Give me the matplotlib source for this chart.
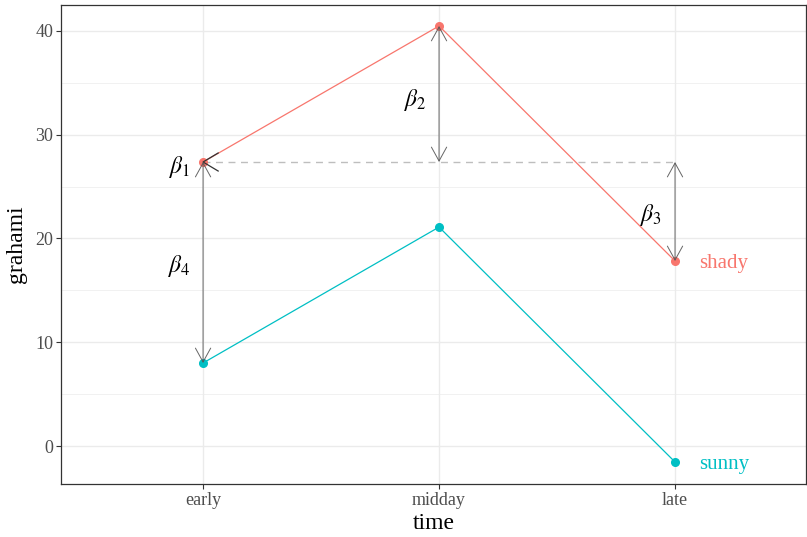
import matplotlib
matplotlib.use("Agg")
import matplotlib.pyplot as plt
import numpy as np

times = ["early", "midday", "late"]
shady = [27.37, 40.48, 17.83]
sunny = [8.0, 21.1, -1.54]
series_names = ["shady", "sunny"]
colors = ["#F8766D", "#00BFC4"]
yticks = [0, 10, 20, 30, 40]
beta_labels = [r"$\beta_1$", r"$\beta_2$", r"$\beta_3$", r"$\beta_4$"]

plt.rcParams["font.family"] = ["Liberation Serif", "DejaVu Serif"]
plt.rcParams["mathtext.fontset"] = "stix"

fig = plt.figure(figsize=(8.07, 5.37), dpi=100)
ax = fig.add_axes([61/807, 1-484/537, (806-61)/807, (484-5)/537])

x = np.arange(1, len(times)+1)
ax.set_xlim(0.398, 3.555)
ax.set_ylim(-3.66, 42.5)

# grid
for v in [5, 15, 25, 35]:
    ax.axhline(v, color="#EBEBEB", lw=0.5, zorder=0)
for v in yticks:
    ax.axhline(v, color="#EBEBEB", lw=1.0, zorder=0)
for v in x:
    ax.axvline(v, color="#EBEBEB", lw=1.0, zorder=0)

# dashed reference
ax.plot([x[0], x[2]], [shady[0], shady[0]], color="#BEBEBE", lw=1.0,
        dashes=(5, 4), zorder=1)

# series
for vals, c, name in zip([shady, sunny], colors, series_names):
    ax.plot(x, vals, color=c, lw=0.9, zorder=2)
    ax.plot(x, vals, "o", color=c, ms=5.5, zorder=3)
    ax.text(x[2] + 0.1, vals[2] - 0.2, name, color=c, fontsize=15,
            va="center", ha="left")

arrow_kw = dict(arrowstyle="<->,head_length=1.0,head_width=0.55", color="#555555",
                lw=0.7, shrinkA=0, shrinkB=0, alpha=0.9, mutation_scale=10)
def darrow(xx, y0, y1):
    ax.annotate("", xy=(xx, y1), xytext=(xx, y0), arrowprops=arrow_kw, zorder=4)

# beta1: arrowhead pointing left at the intercept
ax.plot([x[0] + 0.064, x[0], x[0] + 0.064], [shady[0] + 0.87, shady[0], shady[0] - 0.87],
        color="#333333", lw=0.9, zorder=4)

darrow(x[0], shady[0], sunny[0])
darrow(x[1], shady[1], shady[0])
darrow(x[2], shady[0], shady[2])

ax.text(x[0] - 0.1, shady[0] - 0.5, beta_labels[0], fontsize=17, ha="center", va="center")
ax.text(x[1] - 0.1, 33.3, beta_labels[1], fontsize=17, ha="center", va="center")
ax.text(x[2] - 0.1, 22.3, beta_labels[2], fontsize=17, ha="center", va="center")
ax.text(x[0] - 0.1, 17.3, beta_labels[3], fontsize=17, ha="center", va="center")

ax.set_xticks(x)
ax.set_xticklabels(times)
ax.set_yticks(yticks)
ax.tick_params(axis="both", colors="#333333", labelcolor="#4D4D4D", labelsize=13,
               length=3.5, width=0.8, pad=2)
for s in ax.spines.values():
    s.set_color("#333333")
    s.set_linewidth(0.9)
ax.set_xlabel("time", fontsize=17, labelpad=3)
ax.set_ylabel("grahami", fontsize=17, labelpad=6)

fig.savefig("out.png", dpi=100)
